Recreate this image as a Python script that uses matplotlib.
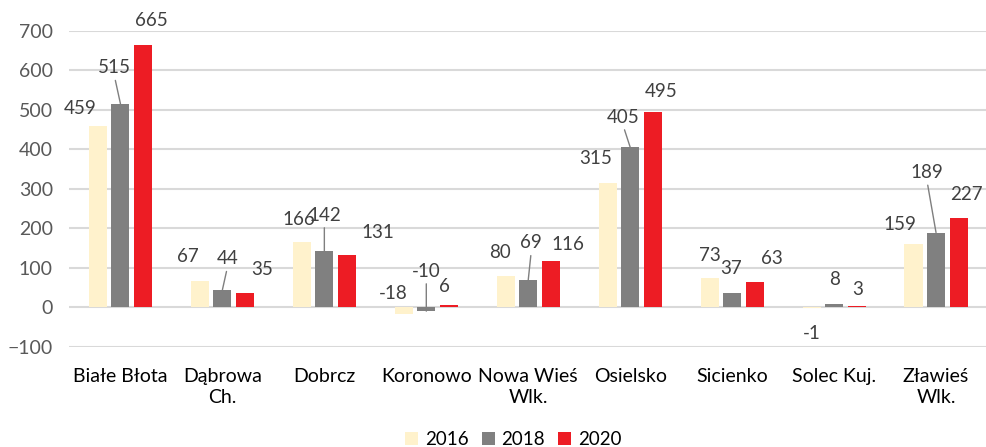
import matplotlib.pyplot as plt
import numpy as np

plt.rcParams["font.family"] = ["Lato", "DejaVu Sans"]

# ---------------- DATA ----------------
categories = ["Białe Błota", "Dąbrowa\nCh.", "Dobrcz", "Koronowo", "Nowa Wieś\nWlk.",
              "Osielsko", "Sicienko", "Solec Kuj.", "Zławieś\nWlk."]
years = ["2016", "2018", "2020"]
v2016 = [459, 67, 166, -18, 80, 315, 73, -1, 159]
v2018 = [515, 44, 142, -10, 69, 405, 37, 8, 189]
v2020 = [665, 35, 131, 6, 116, 495, 63, 3, 227]
y_ticks = [-100, 0, 100, 200, 300, 400, 500, 600, 700]

# label offsets (pixels, relative to bar end) - copied Excel-ish manual placement
off2016 = [(-18, 17), (-12, 24), (-3, 22), (-11, 21), (-6, 23), (-12, 24), (0, 23), (0, -26), (-14, 20)]
off2018 = [(-6, 36), (5, 31), (0, 36), (0, 40), (3, 37), (-7, 30), (-1, 24), (0, 25), (-9, 60)]
off2020 = [(8, 24), (17, 24), (31, 23), (-4, 18), (17, 17), (8, 20), (17, 24), (1, 17), (8, 23)]
leader2018 = [True, True, True, True, True, True, False, False, True]

colors = ["#FFF2CC", "#808080", "#ED1C24"]
text_col = "#404040"

fig = plt.figure(figsize=(9.87, 4.47), dpi=100)
ax = fig.add_axes([0.0704, 0.2244, 0.9296, 0.7069])

x = np.arange(len(categories))
w = 0.177
step = 0.221

series = [v2016, v2018, v2020]
offsets = [off2016, off2018, off2020]
leaders = [[False] * len(categories), leader2018, [False] * len(categories)]

for k, (vals, col, lab) in enumerate(zip(series, colors, years)):
    xs = x + (k - 1) * step
    ax.bar(xs, vals, width=w, color=col, label=lab, zorder=3)
    for xi, v, (dx, dy), lead in zip(xs, vals, offsets[k], leaders[k]):
        props = None
        if lead:
            props = dict(arrowstyle="-", color="#7f7f7f", lw=1,
                         shrinkA=1, shrinkB=0, relpos=(0.5, 0))
        ax.annotate(str(v), xy=(xi, v), xytext=(dx, dy), textcoords="offset pixels",
                    ha="center", va="center", fontsize=13.5, color=text_col,
                    arrowprops=props, zorder=4)

ax.set_xlim(-0.5, len(categories) - 0.5)
ax.set_ylim(-100, 700)
ax.set_yticks(y_ticks)
ax.set_xticks(x)
ax.set_xticklabels(categories, fontsize=14, color="#000000", linespacing=1.3)
ax.tick_params(axis="y", labelsize=14, labelcolor="#595959", length=0, pad=12)
ax.tick_params(axis="x", length=0, pad=15)
for lbl in ax.get_xticklabels():
    lbl.set_verticalalignment("top")

ax.grid(axis="y", color="#d9d9d9", linewidth=1.5, zorder=0)
ax.set_axisbelow(True)
for s in ax.spines.values():
    s.set_visible(False)

fig.legend(loc="lower center", bbox_to_anchor=(0.52, -0.04), ncol=3, frameon=False,
           fontsize=13.5, handlelength=0.7, handleheight=0.7, handletextpad=0.35,
           columnspacing=0.7)

fig.savefig("out.png", dpi=100)
